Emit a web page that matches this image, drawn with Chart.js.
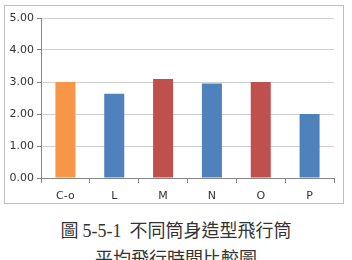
<!DOCTYPE html>
<html>
<head>
<meta charset="utf-8">
<script src="https://cdn.jsdelivr.net/npm/chart.js@4"></script>
<style>
  html, body { margin: 0; padding: 0; background: #fff; }
  body { width: 352px; height: 260px; position: relative; overflow: hidden; }
  .box {
    position: absolute; left: 4px; top: 5px; width: 338px; height: 197px;
    border: 1px solid #bfbfbf; background: #fff;
  }
  .caption {
    position: absolute; left: 0; width: 352px; text-align: center;
    font-family: "Noto Sans CJK TC", "Noto Sans CJK SC", sans-serif;
    font-size: 18px; color: #333; line-height: 18px; white-space: pre;
  }
  .num { font-family: "Liberation Serif", serif; }
</style>
</head>
<body>
<div class="box"><canvas id="chart" width="338" height="197"></canvas></div>
<div class="caption" style="top:220px">圖 <span class="num">5-5-1</span>  不同筒身造型飛行筒</div>
<div class="caption" style="top:248px">平均飛行時間比較圖</div>
<script>
const categories = ["C-o", "L", "M", "N", "O", "P"];
const flightTimes = [3.00, 2.63, 3.09, 2.95, 3.00, 2.00];
const barColors = ["#F79646", "#4F81BD", "#C0504D", "#4F81BD", "#C0504D", "#4F81BD"];
const yTicks = [0, 1, 2, 3, 4, 5];

const tickFont = { family: "DejaVu Sans", size: 11 };

new Chart(document.getElementById("chart"), {
  type: "bar",
  data: {
    labels: categories,
    datasets: [{
      data: flightTimes,
      backgroundColor: barColors,
      borderWidth: 0,
      categoryPercentage: 1,
      barPercentage: 0.41,
    }],
  },
  options: {
    responsive: false,
    animation: false,
    devicePixelRatio: 1,
    layout: { padding: { top: 12, right: 9, bottom: 0, left: 0 } },
    plugins: { legend: { display: false }, tooltip: { enabled: false } },
    scales: {
      x: {
        grid: { drawOnChartArea: false, drawTicks: true, tickLength: 5, color: "#868686", offset: true },
        border: { display: true, color: "#868686" },
        ticks: { font: tickFont, color: "#333333", padding: 7 },
        afterFit: (s) => { s.height = 25; },
      },
      y: {
        min: 0,
        max: 5,
        afterBuildTicks: (s) => { s.ticks = yTicks.map((v) => ({ value: v })); },
        grid: { color: "#d0d0d0", tickLength: 4, tickColor: "#868686" },
        border: { display: true, color: "#868686" },
        ticks: {
          font: tickFont,
          color: "#333333",
          padding: 3,
          callback: (v) => Number(v).toFixed(2),
        },
        afterFit: (s) => { s.width = 36; },
      },
    },
  },
});
</script>
</body>
</html>
